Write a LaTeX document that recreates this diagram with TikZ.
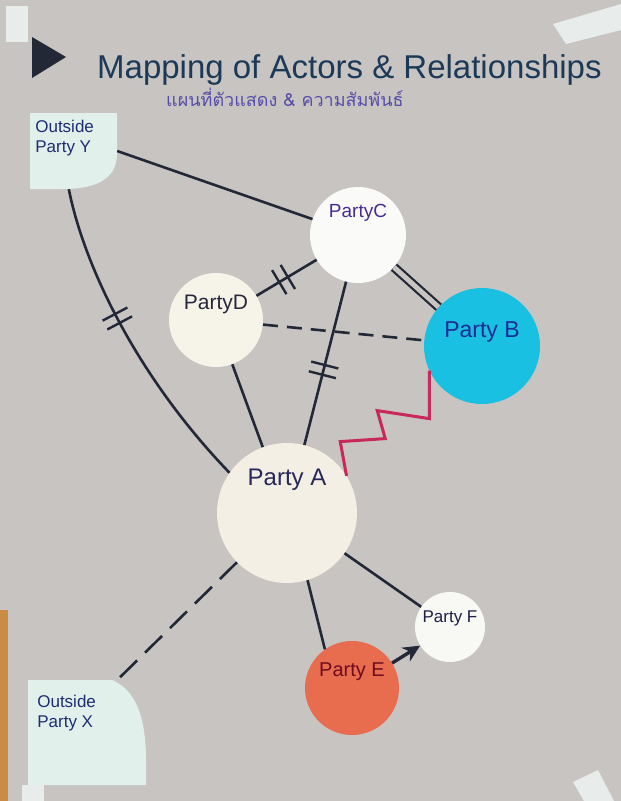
\documentclass[tikz,border=0pt]{standalone}
\usepackage{fontspec}
\setmainfont{Liberation Sans}
\newfontfamily\thaifont[Script=Thai]{Loma}
\usetikzlibrary{arrows.meta,decorations.markings}

\definecolor{paper}{RGB}{199,196,194}
\definecolor{tape}{RGB}{232,236,234}
\definecolor{wood}{RGB}{200,140,70}
\definecolor{notepaper}{RGB}{226,240,235}
\definecolor{ink}{RGB}{35,40,55}
\definecolor{titleink}{RGB}{28,58,88}
\definecolor{thaiink}{RGB}{88,78,170}
\definecolor{noteink}{RGB}{30,45,115}
\definecolor{zigzag}{RGB}{200,40,90}
\definecolor{fillA}{RGB}{243,239,228}
\definecolor{fillB}{RGB}{25,192,225}
\definecolor{fillC}{RGB}{250,250,248}
\definecolor{fillD}{RGB}{246,244,232}
\definecolor{fillE}{RGB}{232,108,78}
\definecolor{fillF}{RGB}{248,248,244}
\definecolor{inkA}{RGB}{40,40,90}
\definecolor{inkB}{RGB}{30,45,150}
\definecolor{inkC}{RGB}{70,45,150}
\definecolor{inkD}{RGB}{40,40,60}
\definecolor{inkE}{RGB}{110,12,32}
\definecolor{inkF}{RGB}{30,30,70}

\begin{document}
\begin{tikzpicture}[x=1pt, y=-1pt,
	party/.style={circle, fill=#1, inner sep=0pt},
	note/.style={inner sep=0pt},
	link/.style={draw=ink, line width=2.6pt},
	cut/.style={postaction={decorate}, decoration={markings, mark=at position #1 with {\draw[ink, line width=2.4pt, solid] (-5,-14) -- (-5,14) (5,-14) -- (5,14);}}}]
	% paper
	\fill [paper] (0,0) rectangle (621,801);
	\useasboundingbox (0,0) rectangle (621,801);
	\fill [wood] (0,610) rectangle (8,801);
	\fill [tape] (6,6) rectangle (28,42);
	\fill [tape] (553,24) -- (621,4) -- (621,30) -- (566,44) -- cycle;
	\fill [tape] (573,782) -- (598,770) -- (614,801) -- (584,801) -- cycle;
	\fill [tape] (22,785) rectangle (44,801);

	% title
	\fill [ink] (32,37) -- (66,57) -- (32,78) -- cycle;
	\node [anchor=base west, inner sep=0pt, text=titleink, font=\fontsize{33}{33}\selectfont] (title) at (97,78) {Mapping of Actors \& Relationships};
	\node [anchor=base west, inner sep=0pt, text=thaiink, font=\thaifont\fontsize{18}{18}\selectfont] (subtitle) at (166,106) {แผนที่ตัวแสดง \& ความสัมพันธ์};

	% outside parties
	\fill [notepaper] (30,113) -- (117,113) -- (117,155) .. controls (116,180) and (95,189) .. (62,189) -- (30,189) -- cycle;
	\node [note, minimum width=87pt, minimum height=76pt,
		label={[anchor=north west, align=left, text=noteink, font=\fontsize{17}{20}\selectfont, xshift=2pt, yshift=-4pt]north west:Outside\\Party Y}] (Y) at (73.5,151) {};
	\fill [notepaper] (28,680) -- (112,680) .. controls (136,690) and (146,718) .. (146,760) -- (146,785) -- (28,785) -- cycle;
	\node [note, minimum width=118pt, minimum height=105pt,
		label={[anchor=north west, align=left, text=noteink, font=\fontsize{17}{20}\selectfont, xshift=6pt, yshift=-12pt]north west:Outside\\Party X}] (X) at (87,732.5) {};

	% parties
	\node [party=fillA, minimum size=140pt, label={[yshift=33pt, text=inkA, font=\fontsize{24}{24}\selectfont]center:Party A}] (A) at (287,513) {};
	\node [party=fillB, minimum size=116pt, label={[yshift=14pt, text=inkB, font=\fontsize{23}{23}\selectfont]center:Party B}] (B) at (482,346) {};
	\node [party=fillC, minimum size=96pt, label={[yshift=22pt, text=inkC, font=\fontsize{19}{19}\selectfont]center:PartyC}] (C) at (358,235) {};
	\node [party=fillD, minimum size=94pt, label={[yshift=16pt, text=inkD, font=\fontsize{21}{21}\selectfont]center:PartyD}] (D) at (216,320) {};
	\node [party=fillE, minimum size=94pt, label={[yshift=16pt, text=inkE, font=\fontsize{20}{20}\selectfont]center:Party E}] (E) at (352,688) {};
	\node [party=fillF, minimum size=70pt, label={[yshift=9pt, text=inkF, font=\fontsize{17}{17}\selectfont]center:Party F}] (F) at (450,627) {};

	% relationships
	\draw [link] (Y.east) -- (C);
	\draw [link, cut=0.42] (Y.-97) .. controls (85,270) and (140,380) .. (A.145);
	\draw [link, cut=0.45] (D) -- (C);
	\draw [link, double=paper, double distance=5pt, line width=2.2pt] (C) -- (B);
	\draw [link, dash pattern=on 15pt off 9pt] (D) -- (B);
	\draw [link, cut=0.54] (C) -- (A);
	\draw [link] (D) -- (A);
	\draw [draw=zigzag, line width=3pt, line join=miter] (B.205) -- ++(0,48) -- ++(-52,-8) -- ++(8,28) -- ++(-45,3) -- (A.32);
	\draw [link, dash pattern=on 24pt off 11pt] (A) -- (X.60);
	\draw [link] (A.-73) -- (E.125);
	\draw [link] (A) -- (F);
	\draw [link, line width=3.4pt, -{Stealth[length=17pt, width=16pt]}] (E) -- (F);
\end{tikzpicture}
\end{document}
